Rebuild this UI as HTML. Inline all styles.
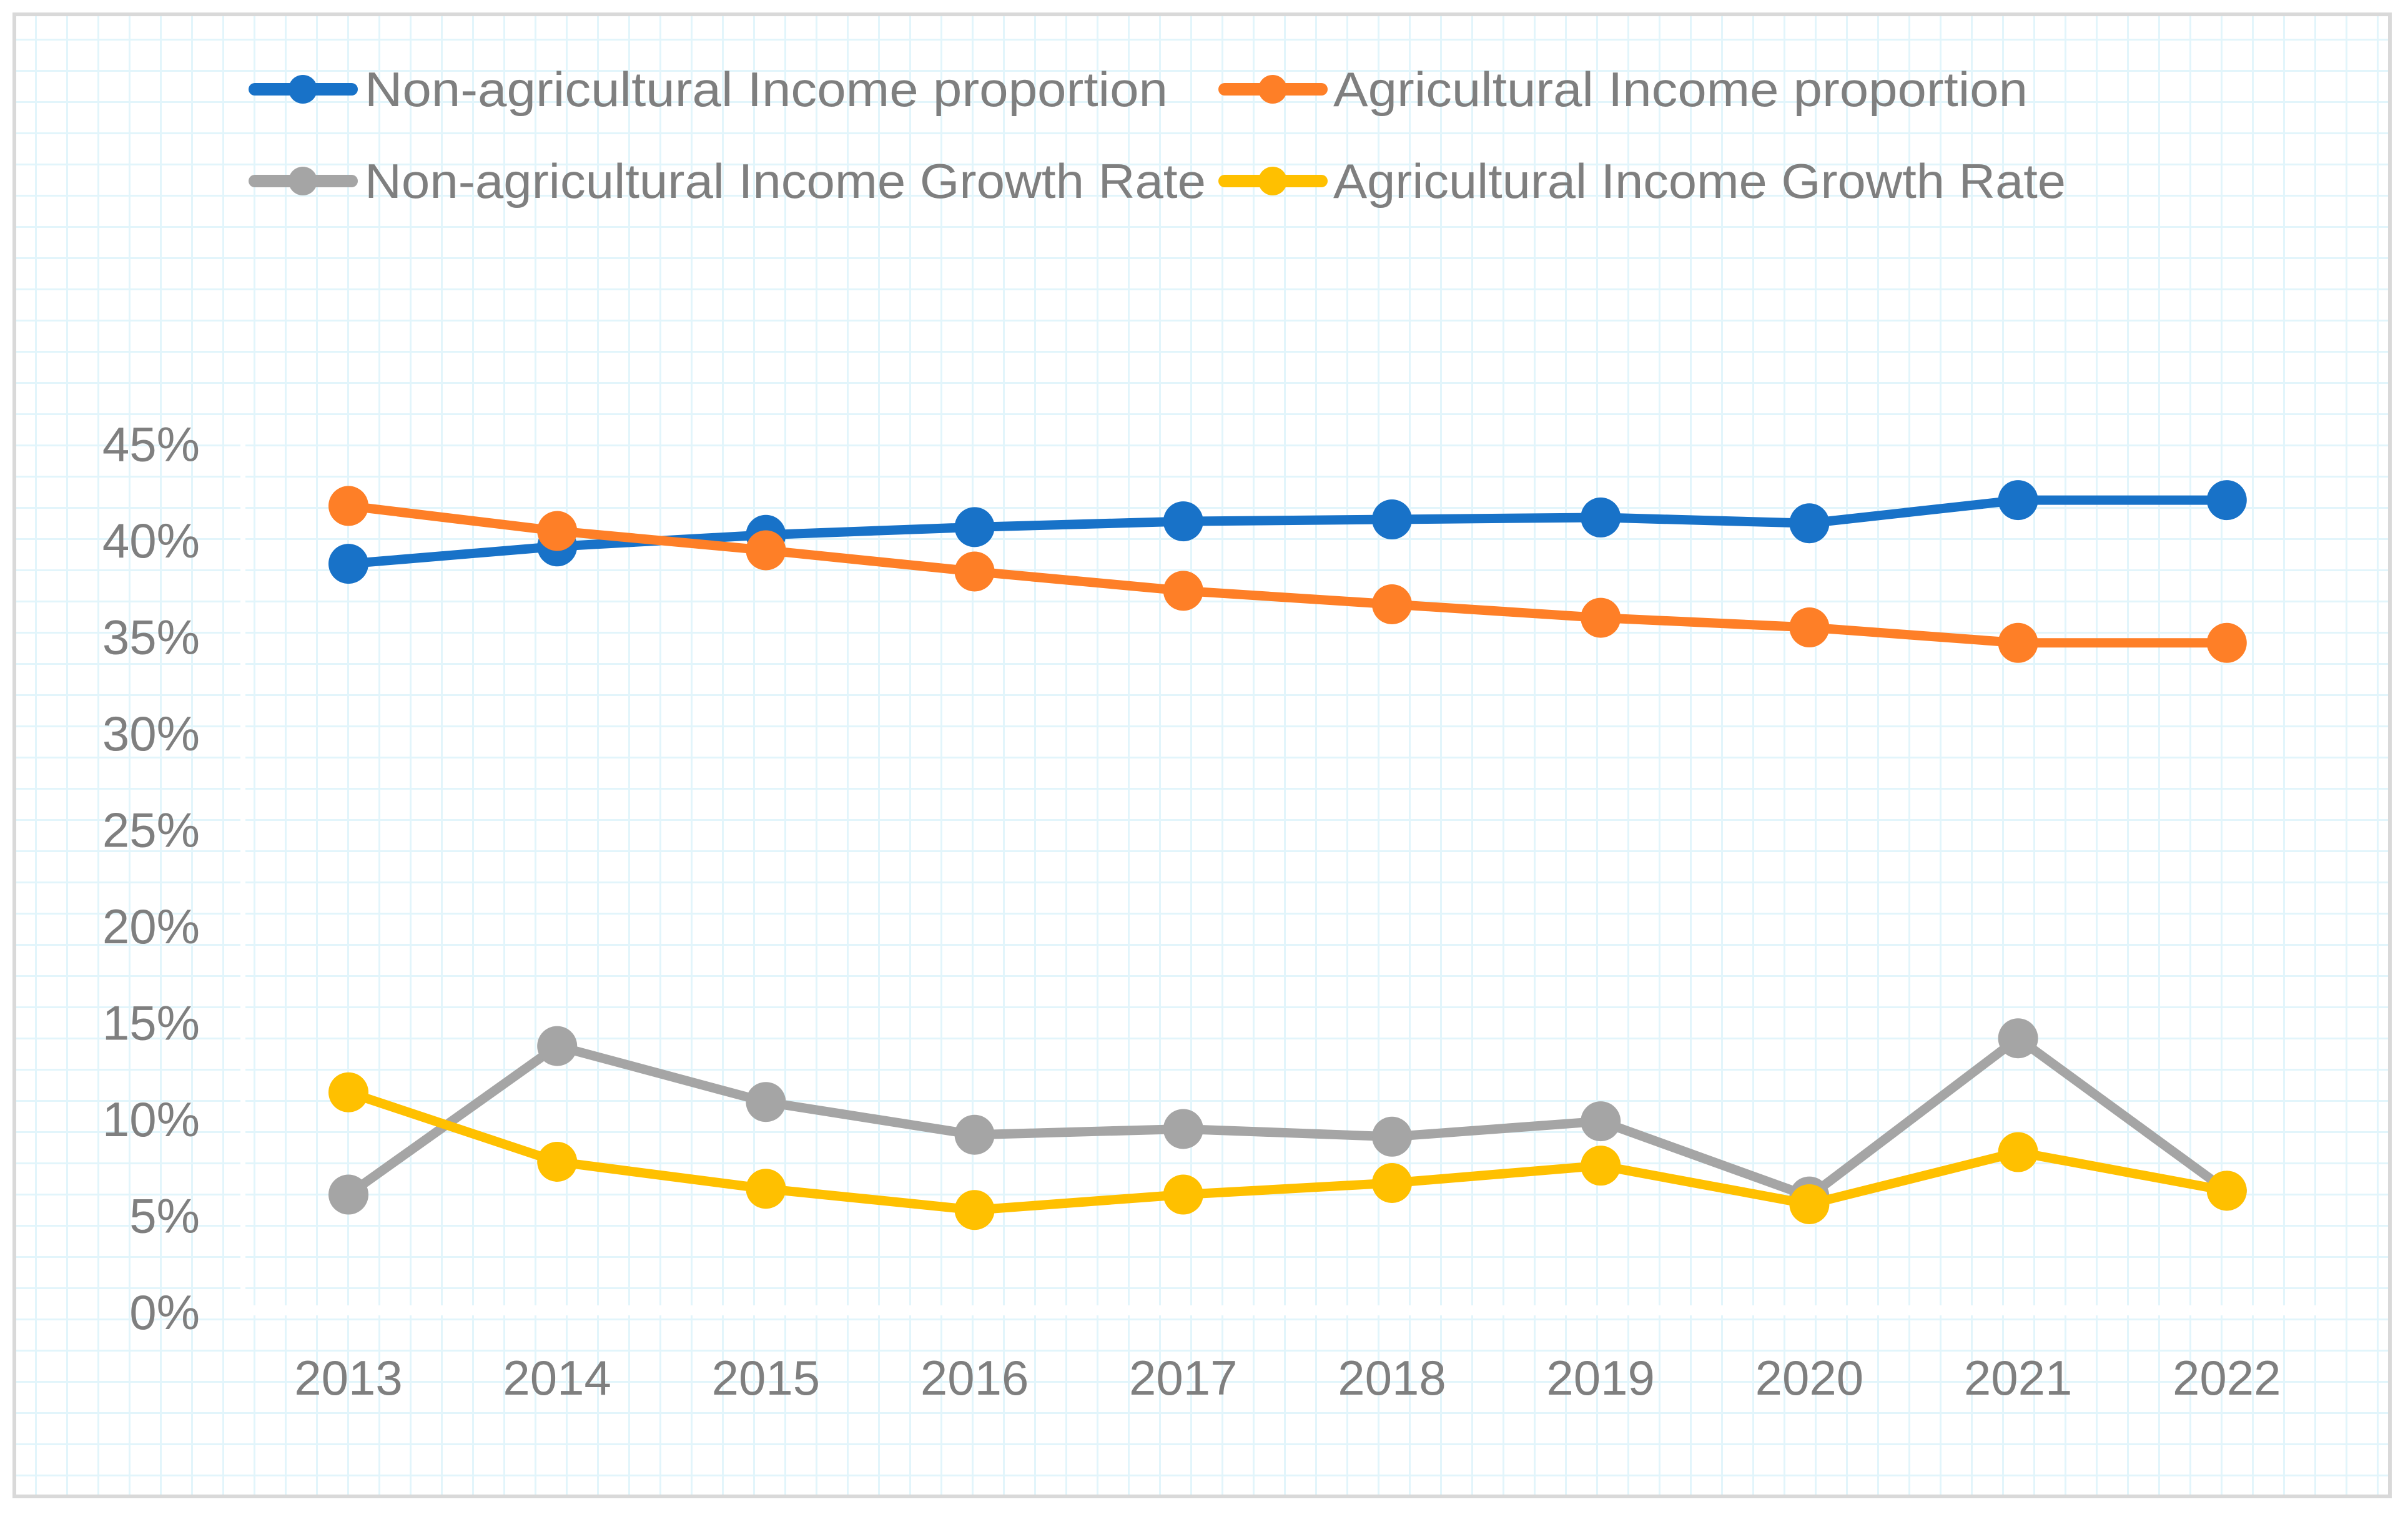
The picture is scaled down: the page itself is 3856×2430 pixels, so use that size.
<!DOCTYPE html>
<html><head><meta charset="utf-8"><style>
html,body{margin:0;padding:0;background:#fff;}
#wrap{position:relative;width:3856px;height:2430px;overflow:hidden;background:#fff;}
#frame{position:absolute;left:20px;top:20px;width:3810px;height:2380px;border:6px solid #d9d9d9;box-sizing:border-box;
background-color:#fff;
background-image:linear-gradient(to right,#e2f5fb 3px,transparent 3px),linear-gradient(to bottom,#e2f5fb 3px,transparent 3px);
background-size:50px 50px;background-position:30px 36px;}
svg{position:absolute;left:0;top:0;}
text{font-family:"Liberation Sans",sans-serif;fill:#7f7f7f;}
</style></head><body>
<div id="wrap">
<div id="frame"></div>
<svg id="chart" width="3856" height="2430" viewBox="0 0 3856 2430"></svg>
</div>
<script>
const categories=["2013","2014","2015","2016","2017","2018","2019","2020","2021","2022"];
const nonAgriShare=[38.8,39.7,40.3,40.7,41.0,41.1,41.2,40.9,42.1,42.1];
const agriShare=[41.8,40.5,39.5,38.4,37.4,36.7,36.0,35.5,34.7,34.7];
const nonAgriGrowth=[6.1,13.8,10.9,9.2,9.5,9.1,9.9,6.0,14.2,6.3];
const agriGrowth=[11.4,7.8,6.4,5.3,6.1,6.7,7.6,5.6,8.3,6.3];
const yTicks=[0,5,10,15,20,25,30,35,40,45];
const seriesNames=["Non-agricultural Income proportion","Agricultural Income proportion","Non-agricultural Income Growth Rate","Agricultural Income Growth Rate"];

const NS="http://www.w3.org/2000/svg";
const svg=document.getElementById('chart');
const X0=558,XSTEP=334.2,Y0=2102,YPER=30.9;
function xs(i){return X0+i*XSTEP;}
function ys(v){return Y0-v*YPER;}
function mk(tag,attrs,parent){const e=document.createElementNS(NS,tag);for(const k in attrs)e.setAttribute(k,attrs[k]);(parent||svg).appendChild(e);return e;}

// white axes
const ax=mk('rect',{x:385,y:700,width:8,height:1400,fill:'#fff'});


const bx=mk('rect',{x:385,y:2091,width:3348,height:16,fill:'#fff'});



yTicks.forEach(v=>{
  const t=mk('text',{x:320,y:ys(v)+27,'font-size':78,'text-anchor':'end'});
  t.textContent=v+'%';
  
  
});
categories.forEach((c,i)=>{
  const t=mk('text',{x:xs(i),y:2234,'font-size':78,'text-anchor':'middle'});
  t.textContent=c;
  
  
});

const colors=["#1872c8","#fe7f27","#a5a5a5","#ffc000"];
const data=[nonAgriShare,agriShare,nonAgriGrowth,agriGrowth];
const drawOrder=[2,3,0,1];
drawOrder.forEach(s=>{
  const g=mk('g',{});
  
  
  const pts=data[s].map((v,i)=>xs(i)+','+ys(v)).join(' ');
  const pl=mk('polyline',{points:pts,fill:'none',stroke:colors[s],'stroke-width':15,'stroke-linejoin':'round','stroke-linecap':'round'},g);
  
  
  data[s].forEach((v,i)=>{
    const c=mk('circle',{cx:xs(i),cy:ys(v),r:32,fill:colors[s]},g);
    
    
  });
});

// legend
const legPos=[[400,143,584,1286],[1953,143,2135,1112],[400,290,584,1347],[1953,290,2135,1173]];
legPos.forEach((p,s)=>{
  const g=mk('g',{});
  
  
  mk('line',{x1:p[0]+8,y1:p[1],x2:p[0]+163,y2:p[1],stroke:colors[s],'stroke-width':20,'stroke-linecap':'round'},g);
  mk('circle',{cx:p[0]+85,cy:p[1],r:23,fill:colors[s]},g);
  const t=mk('text',{x:p[2],y:p[1]+27,'font-size':78,textLength:p[3],lengthAdjust:'spacingAndGlyphs'},g);
  t.textContent=seriesNames[s];
});
</script>
</body></html>
